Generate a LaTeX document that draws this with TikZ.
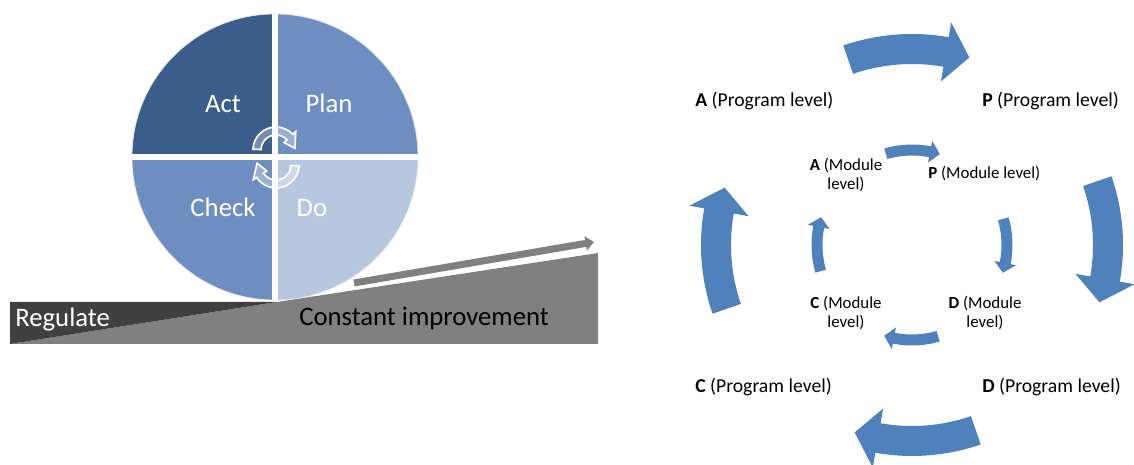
\documentclass[tikz,border=0pt]{standalone}
\usepackage{fontspec}
\setmainfont{Carlito}
\usetikzlibrary{arrows.meta,calc}
\tikzset{>=Stealth}
\definecolor{actblue}{HTML}{3A5D8B}
\definecolor{planblue}{HTML}{6E8DC0}
\definecolor{doblue}{HTML}{B8C7E0}
\definecolor{cycleblue}{HTML}{4F81BD}
\definecolor{rampdark}{HTML}{404040}
\definecolor{rampgray}{HTML}{808080}

% #1 style, #2 radius, #3 start angle, #4 end angle, #5 half body, #6 half head, #7 head angle
\newcommand{\bentarrow}[7][]{%
  \path[#1] (#3:#2+#5) arc[start angle=#3, end angle=#4+#7, radius=#2+#5]
    -- (#4+#7:#2+#6) -- (#4:#2) -- (#4+#7:#2-#6) -- (#4+#7:#2-#5)
    arc[start angle=#4+#7, end angle=#3, radius=#2-#5] -- cycle;}

\begin{document}
\begin{tikzpicture}[x=0.025cm,y=0.025cm,
  quarter/.style={font=\fontsize{19}{23}\selectfont, text=white, anchor=base},
  proglabel/.style={font=\fontsize{14}{17}\selectfont, anchor=base west, inner sep=0},
  modlabel/.style={font=\fontsize{12}{13}\selectfont, align=center, inner sep=0},
  bigarrow/.style={fill=cycleblue},
  swirl/.style={draw=white, line width=1.2pt, fill=white, fill opacity=.3}]
\useasboundingbox (0,0) rectangle (1134,465);
% ramp
\fill[rampgray] (10,121) -- (277,163) -- (598,212) -- (598,121) -- cycle;
\fill[rampdark] (10,121) -- (10,163) -- (277,163) -- cycle;
\draw[rampgray, line width=5pt, -{Triangle[width=10pt,length=6pt]}] (354,182) -- (594,223);
% wheel
\coordinate (wheel) at (275,308);
\foreach \ang/\col in {0/planblue,90/actblue,180/planblue,270/doblue}
  \fill[\col] (wheel) -- ++(\ang:143) arc[start angle=\ang, end angle=\ang+90, radius=143] -- cycle;
\draw[white, line width=4pt] ($(wheel)+(0,143)$) -- ($(wheel)+(0,-143)$);
\draw[white, line width=4pt] ($(wheel)+(-143,0)$) -- ($(wheel)+(143,0)$);
\draw[white!80!gray, line width=.5pt] (wheel) circle[radius=143];
\begin{scope}[shift={(276,315)}]
  \bentarrow[swirl]{19}{178}{5}{4}{8}{38}
\end{scope}
\begin{scope}[shift={(276,300)}]
  \bentarrow[swirl]{19}{-2}{-185}{4}{8}{38}
\end{scope}
\node[quarter] (act) at (223,352) {Act};
\node[quarter] (plan) at (329,352) {Plan};
\node[quarter] (check) at (223,248) {Check};
\node[quarter] (do) at (312,248) {Do};
\node[quarter, anchor=base west, inner sep=0] (regulate) at (15,138) {Regulate};
\node[quarter, text=black, anchor=base west, inner sep=0] (improve) at (299,139) {Constant improvement};
% cycle
\coordinate (pdca) at (912,220);
\begin{scope}[shift={(pdca)}]
\foreach \ax in {90,0,-90,-180}{
  \bentarrow[bigarrow]{196}{\ax+19}{\ax-17}{15}{30}{7}
  \bentarrow[bigarrow]{95}{\ax+16}{\ax-17}{5.5}{11}{6}
}
\end{scope}
\node[proglabel] (progA) at (695,358) {\textbf{A} (Program level)};
\node[proglabel] (progP) at (982,358) {\textbf{P} (Program level)};
\node[proglabel] (progC) at (695,72) {\textbf{C} (Program level)};
\node[proglabel] (progD) at (982,72) {\textbf{D} (Program level)};
\node[modlabel] (modA) at (846,290) {\textbf{A} (Module\\level)};
\node[modlabel, anchor=base west] (modP) at (928,286) {\textbf{P} (Module level)};
\node[modlabel] (modC) at (846,152) {\textbf{C} (Module\\level)};
\node[modlabel] (modD) at (985,152) {\textbf{D} (Module\\level)};
\end{tikzpicture}
\end{document}
